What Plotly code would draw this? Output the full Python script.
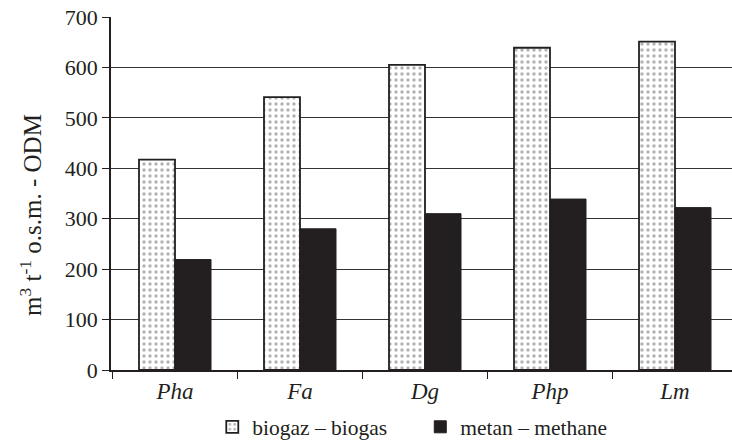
import plotly.graph_objects as go

categories = ["Pha", "Fa", "Dg", "Php", "Lm"]
biogas = [417, 541, 605, 639, 651]
methane = [219, 280, 310, 339, 322]
y_ticks = [0, 100, 200, 300, 400, 500, 600, 700]

FONT = "Liberation Serif, Times New Roman, serif"

fig = go.Figure()
fig.add_trace(go.Bar(
    x=categories, y=biogas, name="biogaz \u2013 biogas",
    marker=dict(color="white", line=dict(color="#231f20", width=1.8),
                pattern=dict(shape=".", size=6, solidity=0.25,
                             fgcolor="#666666", bgcolor="white")),
))
fig.add_trace(go.Bar(
    x=categories, y=methane, name="metan \u2013 methane",
    marker=dict(color="#231f20", line=dict(color="#231f20", width=1)),
))

fig.update_layout(
    width=732, height=446,
    margin=dict(l=111, r=0, t=17, b=76, autoexpand=False),
    paper_bgcolor="white", plot_bgcolor="white",
    barmode="group", bargap=0.424, bargroupgap=0,
    font=dict(family=FONT, size=20, color="#231f20"),
    showlegend=True,
    legend=dict(orientation="h", xref="container", yref="container",
                x=0.29, xanchor="left", y=0.043, yanchor="middle",
                font=dict(size=21.5, family=FONT, color="#231f20"), itemwidth=30,
                entrywidth=163, entrywidthmode="pixels",
                traceorder="normal", tracegroupgap=0),
    xaxis=dict(
        type="category", range=[-0.512, 4.456],
        tickmode="array", tickvals=categories,
        ticktext=["<i>%s</i>" % c for c in categories],
        tickson="boundaries", ticks="outside", ticklen=7, tickwidth=1,
        tickcolor="#231f20",
        showline=True, linecolor="#231f20", linewidth=1.5,
        showgrid=False, tickfont=dict(size=23, family=FONT),
    ),
    yaxis=dict(
        range=[0, 700], tickmode="array", tickvals=y_ticks,
        ticks="outside", ticklen=7, tickwidth=1, tickcolor="#231f20",
        showline=True, linecolor="#231f20", linewidth=1.8,
        showgrid=True, gridcolor="#333333", gridwidth=1,
        zeroline=False, tickfont=dict(size=22, family=FONT),
    ),
    annotations=[dict(
        text="m<sup>3</sup> t<sup>-1</sup> o.s.m. - ODM",
        xref="paper", yref="paper", x=-0.13, y=0.44,
        xanchor="center", yanchor="middle", textangle=-90,
        showarrow=False, font=dict(size=25, family=FONT, color="#231f20"),
    )],
)

fig.write_html(
    "out.html",
    config={"displayModeBar": False},
    post_script="document.body.style.margin='0';document.body.style.overflow='hidden';",
)
